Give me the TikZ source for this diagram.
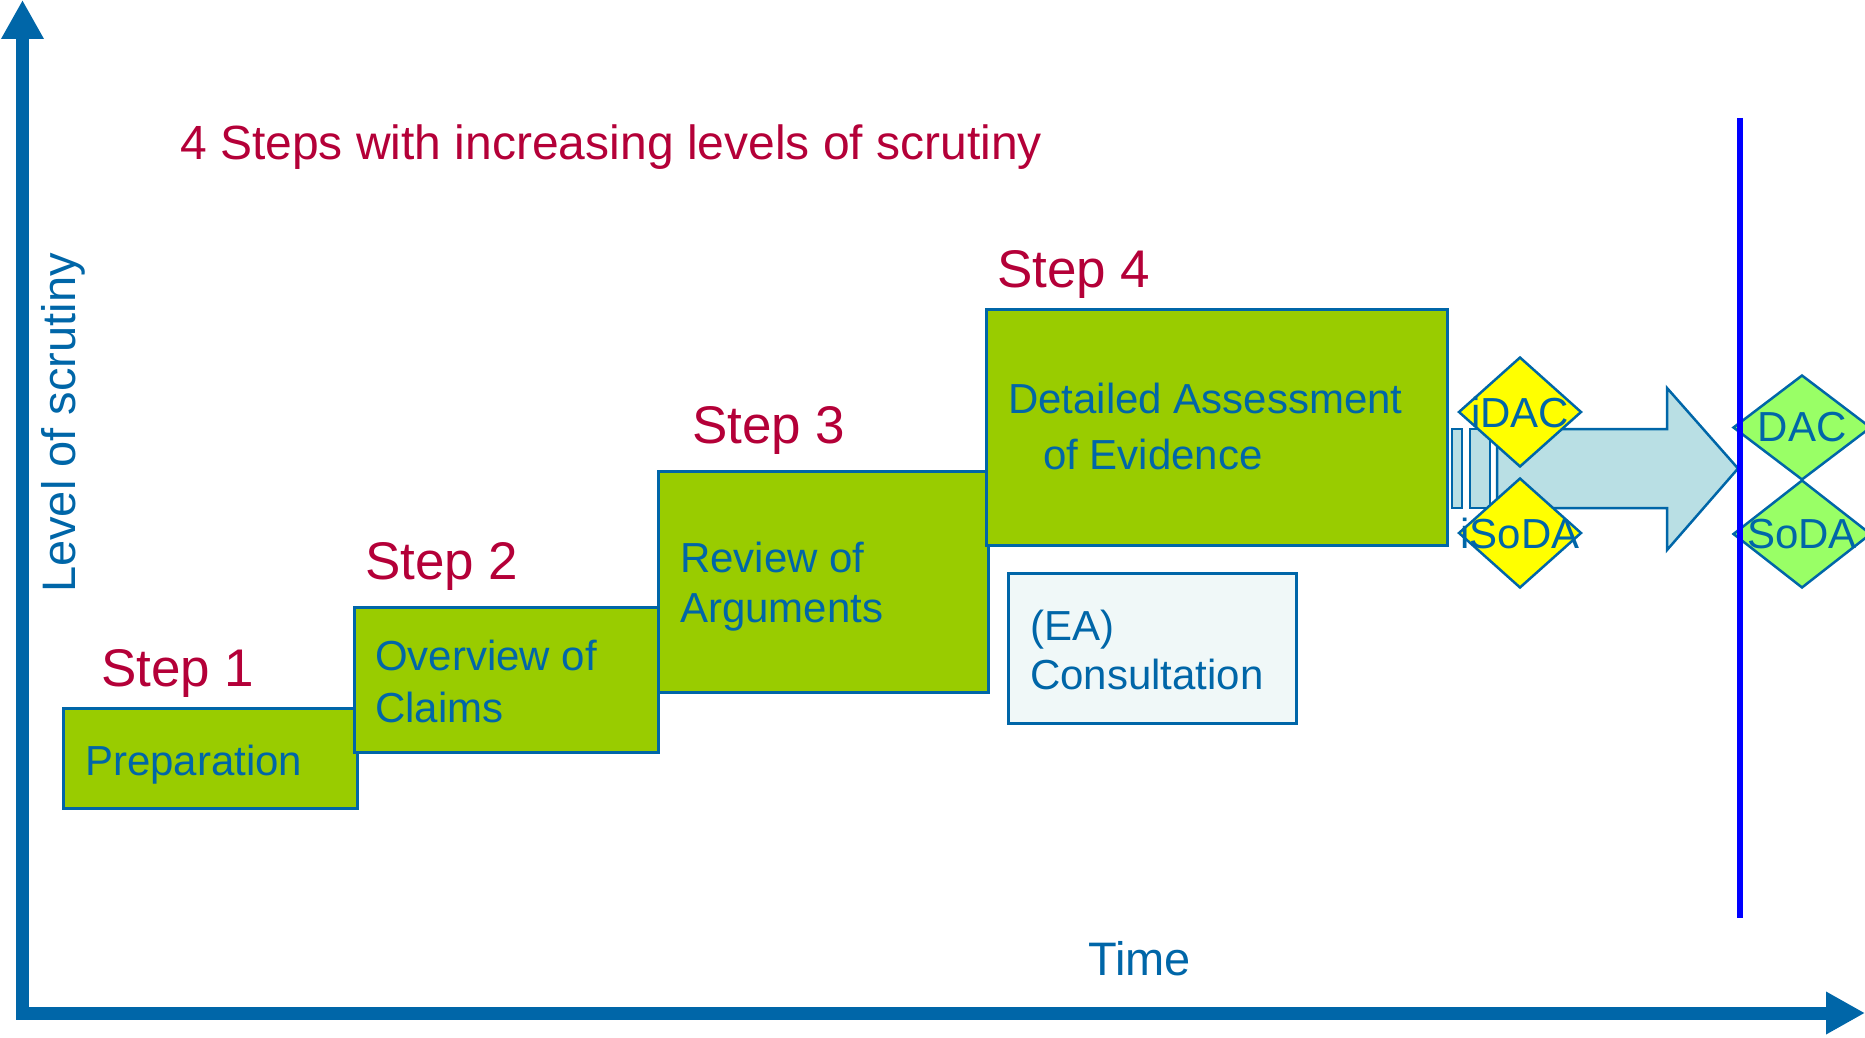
\documentclass[tikz,border=0pt]{standalone}
\usepackage{fontspec}
\setmainfont{Liberation Sans}
\usetikzlibrary{shapes.geometric,arrows.meta}
\definecolor{stepred}{RGB}{180,0,56}
\definecolor{txtblue}{RGB}{0,102,168}
\definecolor{boxgreen}{RGB}{153,204,0}
\definecolor{dacgreen}{RGB}{153,255,102}
\definecolor{arrowfill}{RGB}{185,223,228}
\definecolor{consfill}{RGB}{240,248,248}
\definecolor{pureblue}{RGB}{0,0,255}
\definecolor{diayellow}{RGB}{255,255,0}
\tikzset{
  stepbox/.style={draw=txtblue, fill=boxgreen, line width=3pt, inner sep=0pt, rectangle},
  consbox/.style={draw=txtblue, fill=consfill, line width=3pt, inner sep=0pt, rectangle},
  steplabel/.style={anchor=base west, inner sep=0pt, text=stepred, font=\fontsize{53}{60}\selectfont},
  boxtext/.style={anchor=base west, inner sep=0pt, text=txtblue, align=left},
  axislabel/.style={anchor=base west, inner sep=0pt, text=txtblue, font=\fontsize{47}{56}\selectfont},
  dia/.style={diamond, draw=txtblue, line width=2.5pt, inner sep=0pt},
  diatext/.style={text=txtblue, font=\fontsize{42}{50}\selectfont, inner sep=0pt},
  axis/.style={draw=txtblue, line width=13pt, line join=miter},
  bigarrow/.style={draw=txtblue, fill=arrowfill, line width=2.5pt, line join=miter},
}
\begin{document}
\begin{tikzpicture}[x=1pt,y=-1pt]
\useasboundingbox (0,0) rectangle (1865,1038);
% axes
\coordinate (ytop) at (22.5,0);
\coordinate (corner) at (22.5,1013);
\coordinate (xend) at (1865,1013);
\draw[axis, {Triangle[length=39pt,width=40pt]}-{Triangle[length=39pt,width=40pt]}] (ytop) -- (corner) -- (xend);
% title
\node[anchor=base west, inner sep=0pt, text=stepred, font=\fontsize{48}{56}\selectfont] (title) at (180,160) {4 Steps with increasing levels of scrutiny};
% axis labels
\node[axislabel, rotate=90] (ylab) at (75,593) {Level of scrutiny};
\node[axislabel] (xlab) at (1088,975) {Time};
% step boxes
\node[stepbox, minimum width=294pt, minimum height=100pt] (b1) at (210,758) {};
\node[stepbox, minimum width=304pt, minimum height=145pt] (b2) at (506,679.5) {};
\node[stepbox, minimum width=330pt, minimum height=221pt] (b3) at (823,581.5) {};
\node[stepbox, minimum width=461pt, minimum height=236pt] (b4) at (1216.5,427) {};
\node[consbox, minimum width=288pt, minimum height=150pt] (cons) at (1152,648) {};
% step labels
\node[steplabel] (s1) at (101,686) {Step 1};
\node[steplabel] (s2) at (365,579) {Step 2};
\node[steplabel] (s3) at (692,443) {Step 3};
\node[steplabel] (s4) at (997,287) {Step 4};
% box texts (base anchor = baseline of last line)
\node[boxtext, font=\fontsize{42}{52}\selectfont] (t1) at (85,775) {Preparation};
\node[boxtext, font=\fontsize{42}{52}\selectfont] (t2) at (375,722) {Overview of\\Claims};
\node[boxtext, font=\fontsize{42}{50}\selectfont] (t3) at (680,622) {Review of\\Arguments};
\node[boxtext, font=\fontsize{42}{56}\selectfont] (t4) at (1008,469) {Detailed Assessment\\\hspace*{35pt}of Evidence};
\node[boxtext, font=\fontsize{42}{49}\selectfont] (t5) at (1030,689) {(EA)\\Consultation};
% striped arrow
\draw[bigarrow] (1452,429) rectangle (1462,508);
\draw[bigarrow] (1470,429) rectangle (1490,508);
\draw[bigarrow] (1497,429) -- (1667,429) -- (1667,388) -- (1738,468.5) -- (1667,550) -- (1667,508) -- (1497,508) -- cycle;
% diamonds
\node[dia, fill=diayellow, minimum width=123pt, minimum height=110pt] (idac) at (1520,412) {};
\node[diatext] (idact) at (idac.center) {iDAC};
\node[dia, fill=diayellow, minimum width=123pt, minimum height=110pt] (isoda) at (1520,533) {};
\node[diatext] (isodat) at (isoda.center) {iSoDA};
\node[dia, fill=dacgreen, minimum width=138pt, minimum height=105pt] (dac) at (1802,427.5) {};
\node[diatext] (dact) at (dac.center) {DAC};
\node[dia, fill=dacgreen, minimum width=138pt, minimum height=108pt] (soda) at (1802,534) {};
\node[diatext] (sodat) at (soda.center) {SoDA};
% vertical line
\coordinate (vtop) at (1740,118);
\coordinate (vbot) at (1740,918);
\draw[pureblue, line width=6pt] (vtop) -- (vbot);
\end{tikzpicture}
\end{document}
